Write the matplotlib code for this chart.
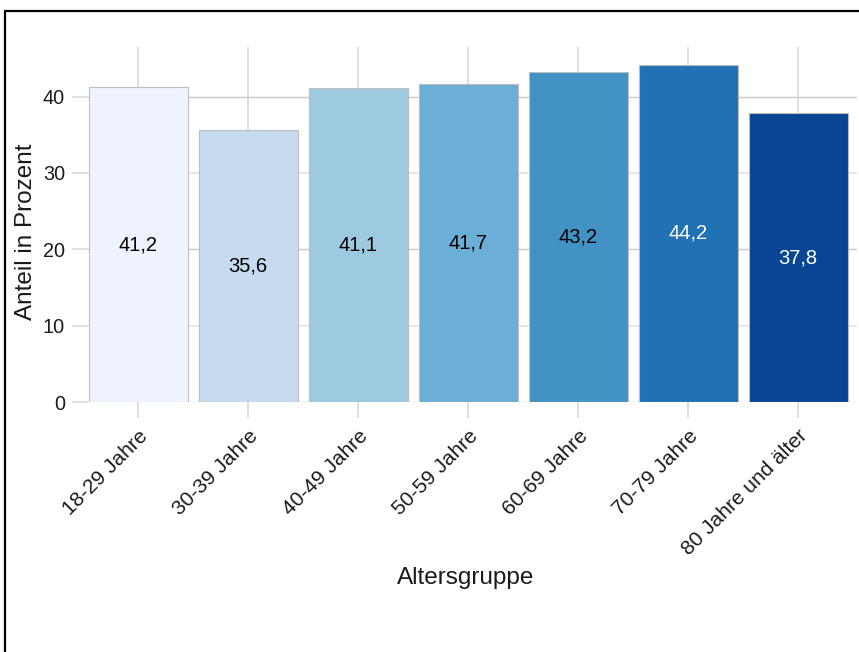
import matplotlib
matplotlib.use("Agg")
import matplotlib.pyplot as plt
from matplotlib.patches import Rectangle

categories = ["18-29 Jahre", "30-39 Jahre", "40-49 Jahre", "50-59 Jahre",
              "60-69 Jahre", "70-79 Jahre", "80 Jahre und älter"]
values = [41.2, 35.6, 41.1, 41.7, 43.2, 44.2, 37.8]
bar_colors = ["#EFF3FF", "#C6DBEF", "#9ECAE1", "#6BAED6", "#4292C6", "#2171B5", "#084594"]
label_colors = ["black", "black", "black", "black", "black", "white", "white"]
y_ticks = [0, 10, 20, 30, 40]

plt.rcParams['font.family'] = ['Liberation Sans', 'DejaVu Sans']

W, H = 859, 652
fig = plt.figure(figsize=(W / 100, H / 100), dpi=100)
ax = fig.add_axes([88 / W, (H - 402) / H, (857 - 88) / W, (402 - 47) / H])

x = list(range(len(categories)))
ax.set_xlim(-0.455, 6.536)
ax.set_ylim(0, 46.5)

# grid
for t in y_ticks:
    if t in (10, 30):
        ax.axhline(t, color="#e6e6e6", lw=1.4, zorder=0)
    else:
        ax.axhline(t, color="#c8c8c8", lw=1.0, zorder=0)
for xi in x:
    ax.axvline(xi, color="#d9d9d9", lw=1.2, zorder=0)

ax.bar(x, values, width=0.9, color=bar_colors, edgecolor="#bdbdbd", linewidth=0.8, zorder=2)

for xi, v, c in zip(x, values, label_colors):
    ax.text(xi, v / 2, f"{v:.1f}".replace(".", ","), ha="center", va="center",
            fontsize=14.5, color=c, zorder=3)

for s in ax.spines.values():
    s.set_visible(False)

ax.set_yticks(y_ticks)
ax.set_yticklabels([str(t) for t in y_ticks], fontsize=14.3, color="#1a1a1a")
ax.set_xticks(x)
ax.set_xticklabels(categories, fontsize=15, color="#1a1a1a", rotation=45,
                   ha="right", va="top", rotation_mode="anchor")
ax.tick_params(axis="both", length=11.5, width=1.2, color="#d9d9d9")
ax.tick_params(axis="y", pad=5)
ax.tick_params(axis="x", pad=6)

ax.set_ylabel("Anteil in Prozent", fontsize=17.5, color="#1a1a1a")
ax.set_xlabel("Altersgruppe", fontsize=17.5, color="#1a1a1a")
ax.yaxis.set_label_coords(-0.066, 0.479)
ax.xaxis.set_label_coords(0.4915, -0.465)

fig.patches.append(Rectangle((5 / W, -0.1), 1.2, (H - 11) / H + 0.1, transform=fig.transFigure,
                             fill=False, edgecolor="black", lw=1.6, zorder=10))

fig.savefig("out.png", dpi=100)
